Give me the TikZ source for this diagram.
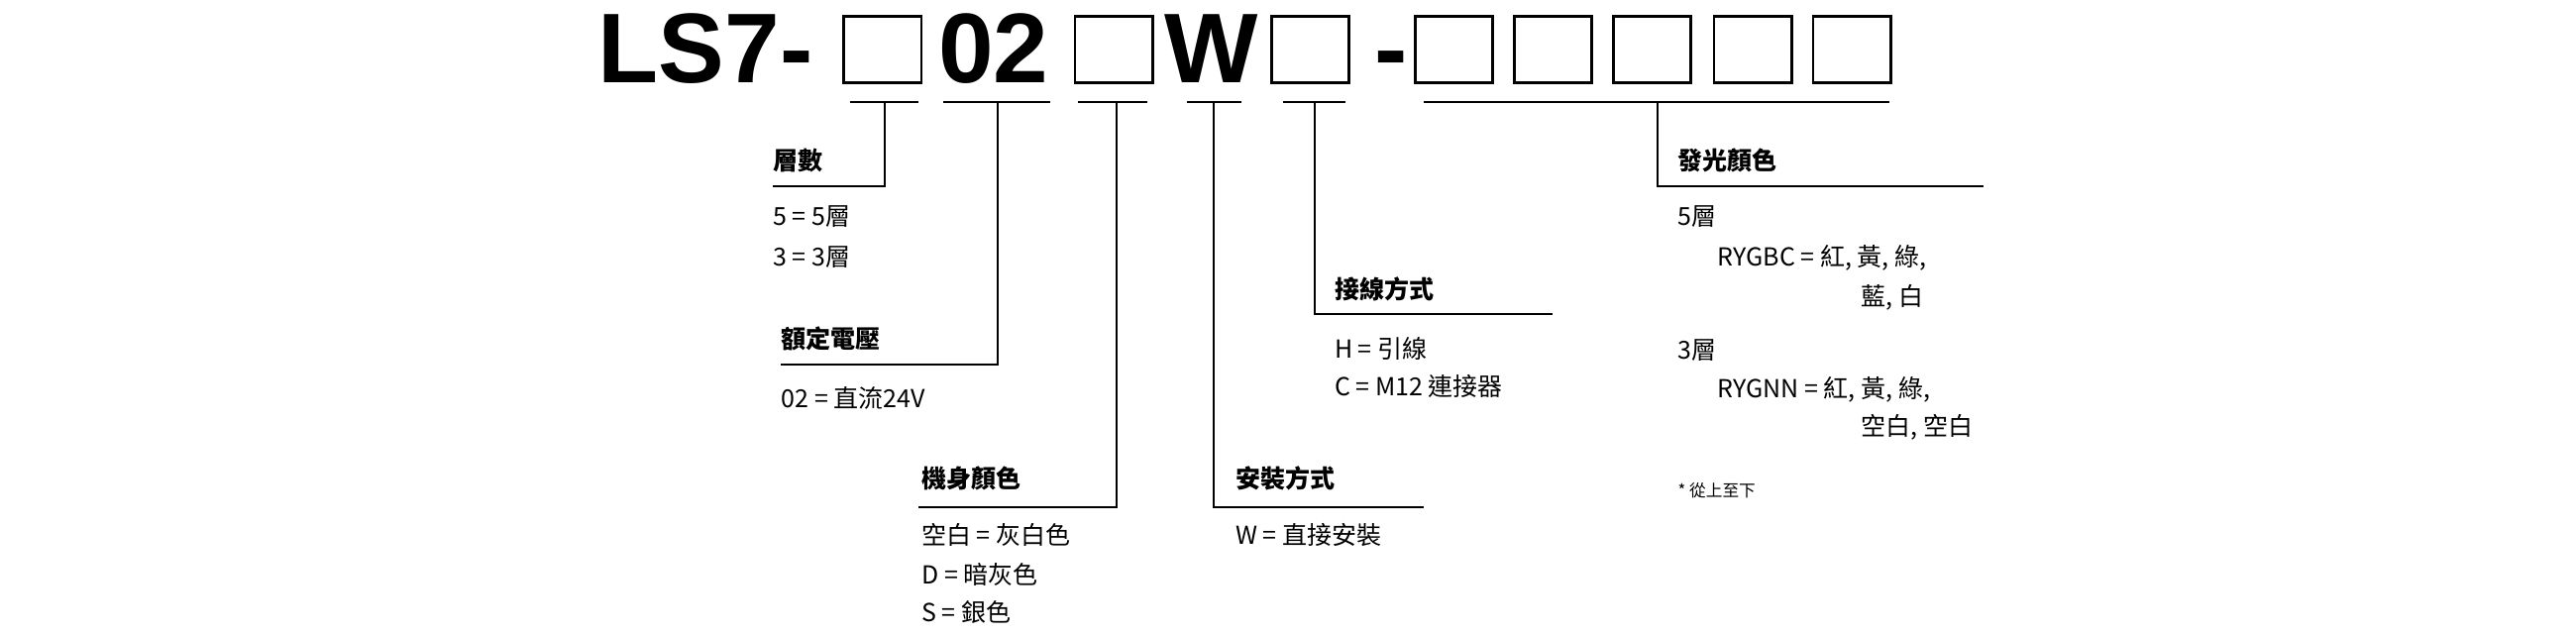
\documentclass[tikz,border=0pt]{standalone}
\usepackage{fontspec}
\setmainfont{Liberation Sans}
\newfontfamily\cjk{Noto Sans CJK TC}
\usetikzlibrary{positioning}
\tikzset{
  title/.style = {font = \bfseries\fontsize{60}{60}\selectfont, inner sep = 0pt, anchor = base west},
  slot/.style = {draw, line width = 1.6pt},
  head/.style = {font = \cjk\bfseries\fontsize{15}{18}\selectfont, inner sep = 0pt, anchor = west},
  item/.style = {font = \cjk\fontsize{15}{18}\selectfont, inner sep = 0pt, anchor = west},
  lead/.style = {line width = 1.1pt}
}
\begin{document}
\begin{tikzpicture}[x = 1pt, y = -1pt]
            \useasboundingbox (0,0) rectangle (1560,384);
            % title
            \node[title] (ls) at (362,50) {LS7-};
            \node[title] (oz) at (568,50) {02};
            \node[title] (w) at (705,50) {W};
            \node[title] (dash) at (832,50) {-};
            \foreach \x/\n in {511/b1, 651/b3, 770/b5, 857/c1, 917/c2, 977/c3, 1038/c4, 1098/c5}
                \draw[slot] (\x,10) rectangle (\x+47,50) coordinate (\n);
            % underlines and leads
            \foreach \a/\b in {515/556, 571/636, 653/695, 719/752, 777/815, 862/1144}
                \draw[lead] (\a,62) -- (\b,62);
            \node[head] (layers) at (468,97) {層數};
            \draw[lead] (536,62) |- (468,113);
            \node[item] (l5) at (468,131) {5 = 5層};
            \node[item] (l3) at (468,156) {3 = 3層};
            \node[head] (volt) at (473,205) {額定電壓};
            \draw[lead] (604,62) |- (473,221);
            \node[item] (v02) at (473,241) {02 = 直流24V};
            \node[head] (body) at (558,290) {機身顏色};
            \draw[lead] (676,62) |- (556,307);
            \node[item] (bw) at (558,324) {空白 = 灰白色};
            \node[item] (bd) at (558,348) {D = 暗灰色};
            \node[item] (bs) at (558,371) {S = 銀色};
            \node[head] (mount) at (748,290) {安裝方式};
            \draw[lead] (735,62) |- (862,307);
            \node[item] (mw) at (748,324) {W = 直接安裝};
            \node[head] (wire) at (808,175) {接線方式};
            \draw[lead] (796,62) |- (940,190);
            \node[item] (wh) at (808,211) {H = 引線};
            \node[item] (wc) at (808,234) {C = M12 連接器};
            \node[head] (light) at (1016,97) {發光顏色};
            \draw[lead] (1004,62) |- (1201,113);
            \node[item] (k5) at (1016,131) {5層};
            \node[item] (k5a) at (1040,156) {RYGBC = 紅, 黃, 綠,};
            \node[item] (k5b) at (1127,180) {藍, 白};
            \node[item] (k3) at (1016,212) {3層};
            \node[item] (k3a) at (1040,236) {RYGNN = 紅, 黃, 綠,};
            \node[item] (k3b) at (1127,259) {空白, 空白};
            \node[item, font = \cjk\fontsize{10}{12}\selectfont] (note) at (1016,297) {* 從上至下};
        \end{tikzpicture}
\end{document}
